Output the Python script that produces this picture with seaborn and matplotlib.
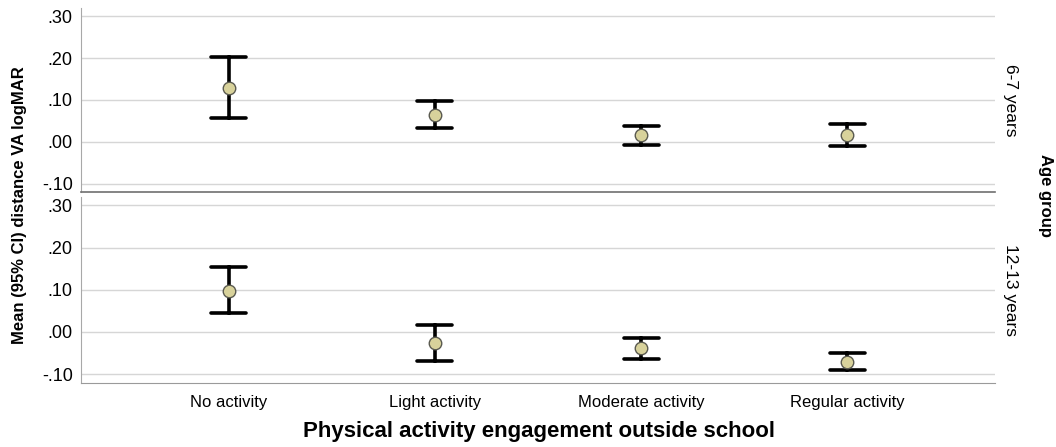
import numpy as np
import pandas as pd
import seaborn as sns
import matplotlib.pyplot as plt
from matplotlib.ticker import FuncFormatter

# values
activities = ["No activity", "Light activity", "Moderate activity", "Regular activity"]
age_groups = ["6-7 years", "12-13 years"]

mean_6_7 = [0.129, 0.064, 0.016, 0.016]
lower_6_7 = [0.057, 0.033, -0.008, -0.011]
upper_6_7 = [0.202, 0.097, 0.038, 0.043]

mean_12_13 = [0.098, -0.026, -0.037, -0.071]
lower_12_13 = [0.045, -0.069, -0.063, -0.090]
upper_12_13 = [0.154, 0.017, -0.015, -0.050]

rows = []
for age, means, lows, ups in [("6-7 years", mean_6_7, lower_6_7, upper_6_7),
                              ("12-13 years", mean_12_13, lower_12_13, upper_12_13)]:
    for act, m, lo, hi in zip(activities, means, lows, ups):
        for v in (lo, m, hi):
            rows.append({"age": age, "activity": act, "va": v})
data = pd.DataFrame(rows)

sns.set_style("white")
plt.rcParams['font.family'] = ['Liberation Sans', 'DejaVu Sans']
plt.rcParams['text.color'] = 'black'

fig = plt.figure(figsize=(10.56, 4.47), dpi=100)
L, R = 0.0767, 0.9422
ax_top = fig.add_axes([L, 1 - 192.3 / 447, R - L, (192.3 - 8) / 447])
ax_bot = fig.add_axes([L, 1 - 383 / 447, R - L, (383 - 197) / 447])

fmt = FuncFormatter(lambda v, p: ("-" if v < -1e-9 else "") + ("%.2f" % abs(v))[1:])

for ax, age in [(ax_top, "6-7 years"), (ax_bot, "12-13 years")]:
    sub = data[data["age"] == age]
    sns.pointplot(data=sub, x="activity", y="va", order=activities,
                  estimator="median", errorbar=("pi", 100),
                  linestyle="none", markers="o", capsize=0.17, color="black",
                  err_kws={"linewidth": 2.6, "color": "black", "zorder": 3},
                  markerfacecolor="#d8d29b", markeredgecolor="#5a5a50",
                  markersize=9, markeredgewidth=1.0, zorder=5, ax=ax)
    ax.set_xlim(-0.717, 3.717)
    ax.set_ylim(-0.121, 0.32)
    ax.set_yticks([-0.1, 0.0, 0.1, 0.2, 0.3])
    ax.yaxis.set_major_formatter(fmt)
    ax.grid(axis="y", color="#d6d6d6", linewidth=1)
    ax.set_axisbelow(True)
    ax.tick_params(axis="y", length=0, labelsize=13, pad=6, colors="black")
    ax.tick_params(axis="x", length=0, labelsize=12, colors="black")
    for s in ["top", "right"]:
        ax.spines[s].set_visible(False)
    ax.spines["left"].set_color("#a8a8a8")
    ax.set_xlabel("")
    ax.set_ylabel("")
    ax.text(1.0175, 0.5, age, transform=ax.transAxes, rotation=-90,
            ha="center", va="center", fontsize=12.5, color="black")

ax_top.spines["bottom"].set_color("#707070")
ax_top.spines["bottom"].set_linewidth(1.2)
ax_top.tick_params(axis="x", labelbottom=False)
ax_bot.spines["bottom"].set_color("#9a9a9a")
ax_bot.tick_params(axis="x", pad=9)

fig.text(20 / 1056, 1 - 205 / 447, "Mean (95% CI) distance VA logMAR", rotation=90,
         ha="center", va="center", fontsize=12, fontweight="bold", color="black")
fig.text(1045 / 1056, 1 - 195 / 447, "Age group", rotation=-90,
         ha="center", va="center", fontsize=12, fontweight="bold", color="black")
fig.text(539 / 1056, 1 - 432 / 447, "Physical activity engagement outside school",
         ha="center", va="center", fontsize=16, fontweight="bold", color="black")

fig.savefig("out.png", dpi=100)
